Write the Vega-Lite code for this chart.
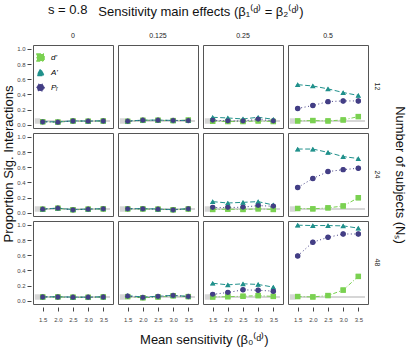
{
  "$schema": "https://vega.github.io/schema/vega-lite/v6.json",
  "title": {"text": "s = 0.8", "anchor": "start", "frame": "group", "offset": -11, "dx": 15},
  "padding": {"left": 2, "top": 4, "right": 1, "bottom": 2},
  "config": {
    "font": "Liberation Sans",
    "view": {"stroke": "#555", "strokeWidth": 1},
    "facet": {"spacing": 3},
    "concat": {"spacing": 0},
    "title": {"fontSize": 13, "fontWeight": "normal", "color": "#111"},
    "axis": {"grid": false, "labelFontSize": 6, "labelColor": "#444", "tickColor": "#444", "tickSize": 4, "domain": false, "labelOverlap": false, "title": null},
    "header": {"labelFontSize": 7, "labelColor": "#222", "titleFontSize": 13, "titleFontWeight": "normal", "titleColor": "#111"}
  },
  "vconcat": [
    {
      "title": {"text": "Mean sensitivity (β₀⁽ᵈ⁾)", "orient": "bottom", "anchor": "middle", "offset": 12},
      "hconcat": [
        {
          "title": {"text": "Proportion Sig. Interactions", "orient": "left", "anchor": "middle", "offset": 1},
          "data": {"values": [
            {"b": 0, "n": 12, "m": "d'", "x": 1.5, "v": 0.040}, {"b": 0, "n": 12, "m": "d'", "x": 2.0, "v": 0.036}, {"b": 0, "n": 12, "m": "d'", "x": 2.5, "v": 0.050}, {"b": 0, "n": 12, "m": "d'", "x": 3.0, "v": 0.047}, {"b": 0, "n": 12, "m": "d'", "x": 3.5, "v": 0.050},
            {"b": 0, "n": 12, "m": "A'", "x": 1.5, "v": 0.042}, {"b": 0, "n": 12, "m": "A'", "x": 2.0, "v": 0.038}, {"b": 0, "n": 12, "m": "A'", "x": 2.5, "v": 0.052}, {"b": 0, "n": 12, "m": "A'", "x": 3.0, "v": 0.049}, {"b": 0, "n": 12, "m": "A'", "x": 3.5, "v": 0.053},
            {"b": 0, "n": 12, "m": "Pᵣ", "x": 1.5, "v": 0.039}, {"b": 0, "n": 12, "m": "Pᵣ", "x": 2.0, "v": 0.035}, {"b": 0, "n": 12, "m": "Pᵣ", "x": 2.5, "v": 0.051}, {"b": 0, "n": 12, "m": "Pᵣ", "x": 3.0, "v": 0.048}, {"b": 0, "n": 12, "m": "Pᵣ", "x": 3.5, "v": 0.051},
            {"b": 0, "n": 24, "m": "d'", "x": 1.5, "v": 0.047}, {"b": 0, "n": 24, "m": "d'", "x": 2.0, "v": 0.060}, {"b": 0, "n": 24, "m": "d'", "x": 2.5, "v": 0.040}, {"b": 0, "n": 24, "m": "d'", "x": 3.0, "v": 0.048}, {"b": 0, "n": 24, "m": "d'", "x": 3.5, "v": 0.051},
            {"b": 0, "n": 24, "m": "A'", "x": 1.5, "v": 0.050}, {"b": 0, "n": 24, "m": "A'", "x": 2.0, "v": 0.062}, {"b": 0, "n": 24, "m": "A'", "x": 2.5, "v": 0.042}, {"b": 0, "n": 24, "m": "A'", "x": 3.0, "v": 0.050}, {"b": 0, "n": 24, "m": "A'", "x": 3.5, "v": 0.054},
            {"b": 0, "n": 24, "m": "Pᵣ", "x": 1.5, "v": 0.048}, {"b": 0, "n": 24, "m": "Pᵣ", "x": 2.0, "v": 0.061}, {"b": 0, "n": 24, "m": "Pᵣ", "x": 2.5, "v": 0.039}, {"b": 0, "n": 24, "m": "Pᵣ", "x": 3.0, "v": 0.048}, {"b": 0, "n": 24, "m": "Pᵣ", "x": 3.5, "v": 0.052},
            {"b": 0, "n": 48, "m": "d'", "x": 1.5, "v": 0.050}, {"b": 0, "n": 48, "m": "d'", "x": 2.0, "v": 0.051}, {"b": 0, "n": 48, "m": "d'", "x": 2.5, "v": 0.047}, {"b": 0, "n": 48, "m": "d'", "x": 3.0, "v": 0.046}, {"b": 0, "n": 48, "m": "d'", "x": 3.5, "v": 0.050},
            {"b": 0, "n": 48, "m": "A'", "x": 1.5, "v": 0.052}, {"b": 0, "n": 48, "m": "A'", "x": 2.0, "v": 0.053}, {"b": 0, "n": 48, "m": "A'", "x": 2.5, "v": 0.049}, {"b": 0, "n": 48, "m": "A'", "x": 3.0, "v": 0.048}, {"b": 0, "n": 48, "m": "A'", "x": 3.5, "v": 0.053},
            {"b": 0, "n": 48, "m": "Pᵣ", "x": 1.5, "v": 0.051}, {"b": 0, "n": 48, "m": "Pᵣ", "x": 2.0, "v": 0.051}, {"b": 0, "n": 48, "m": "Pᵣ", "x": 2.5, "v": 0.047}, {"b": 0, "n": 48, "m": "Pᵣ", "x": 3.0, "v": 0.047}, {"b": 0, "n": 48, "m": "Pᵣ", "x": 3.5, "v": 0.051},

            {"b": 0.125, "n": 12, "m": "d'", "x": 1.5, "v": 0.046}, {"b": 0.125, "n": 12, "m": "d'", "x": 2.0, "v": 0.059}, {"b": 0.125, "n": 12, "m": "d'", "x": 2.5, "v": 0.060}, {"b": 0.125, "n": 12, "m": "d'", "x": 3.0, "v": 0.055}, {"b": 0.125, "n": 12, "m": "d'", "x": 3.5, "v": 0.062},
            {"b": 0.125, "n": 12, "m": "A'", "x": 1.5, "v": 0.049}, {"b": 0.125, "n": 12, "m": "A'", "x": 2.0, "v": 0.062}, {"b": 0.125, "n": 12, "m": "A'", "x": 2.5, "v": 0.062}, {"b": 0.125, "n": 12, "m": "A'", "x": 3.0, "v": 0.058}, {"b": 0.125, "n": 12, "m": "A'", "x": 3.5, "v": 0.058},
            {"b": 0.125, "n": 12, "m": "Pᵣ", "x": 1.5, "v": 0.047}, {"b": 0.125, "n": 12, "m": "Pᵣ", "x": 2.0, "v": 0.060}, {"b": 0.125, "n": 12, "m": "Pᵣ", "x": 2.5, "v": 0.060}, {"b": 0.125, "n": 12, "m": "Pᵣ", "x": 3.0, "v": 0.056}, {"b": 0.125, "n": 12, "m": "Pᵣ", "x": 3.5, "v": 0.056},
            {"b": 0.125, "n": 24, "m": "d'", "x": 1.5, "v": 0.051}, {"b": 0.125, "n": 24, "m": "d'", "x": 2.0, "v": 0.051}, {"b": 0.125, "n": 24, "m": "d'", "x": 2.5, "v": 0.048}, {"b": 0.125, "n": 24, "m": "d'", "x": 3.0, "v": 0.040}, {"b": 0.125, "n": 24, "m": "d'", "x": 3.5, "v": 0.050},
            {"b": 0.125, "n": 24, "m": "A'", "x": 1.5, "v": 0.054}, {"b": 0.125, "n": 24, "m": "A'", "x": 2.0, "v": 0.055}, {"b": 0.125, "n": 24, "m": "A'", "x": 2.5, "v": 0.050}, {"b": 0.125, "n": 24, "m": "A'", "x": 3.0, "v": 0.042}, {"b": 0.125, "n": 24, "m": "A'", "x": 3.5, "v": 0.055},
            {"b": 0.125, "n": 24, "m": "Pᵣ", "x": 1.5, "v": 0.052}, {"b": 0.125, "n": 24, "m": "Pᵣ", "x": 2.0, "v": 0.052}, {"b": 0.125, "n": 24, "m": "Pᵣ", "x": 2.5, "v": 0.048}, {"b": 0.125, "n": 24, "m": "Pᵣ", "x": 3.0, "v": 0.039}, {"b": 0.125, "n": 24, "m": "Pᵣ", "x": 3.5, "v": 0.052},
            {"b": 0.125, "n": 48, "m": "d'", "x": 1.5, "v": 0.055}, {"b": 0.125, "n": 48, "m": "d'", "x": 2.0, "v": 0.040}, {"b": 0.125, "n": 48, "m": "d'", "x": 2.5, "v": 0.050}, {"b": 0.125, "n": 48, "m": "d'", "x": 3.0, "v": 0.066}, {"b": 0.125, "n": 48, "m": "d'", "x": 3.5, "v": 0.055},
            {"b": 0.125, "n": 48, "m": "A'", "x": 1.5, "v": 0.068}, {"b": 0.125, "n": 48, "m": "A'", "x": 2.0, "v": 0.050}, {"b": 0.125, "n": 48, "m": "A'", "x": 2.5, "v": 0.060}, {"b": 0.125, "n": 48, "m": "A'", "x": 3.0, "v": 0.072}, {"b": 0.125, "n": 48, "m": "A'", "x": 3.5, "v": 0.058},
            {"b": 0.125, "n": 48, "m": "Pᵣ", "x": 1.5, "v": 0.060}, {"b": 0.125, "n": 48, "m": "Pᵣ", "x": 2.0, "v": 0.043}, {"b": 0.125, "n": 48, "m": "Pᵣ", "x": 2.5, "v": 0.056}, {"b": 0.125, "n": 48, "m": "Pᵣ", "x": 3.0, "v": 0.069}, {"b": 0.125, "n": 48, "m": "Pᵣ", "x": 3.5, "v": 0.056},

            {"b": 0.25, "n": 12, "m": "d'", "x": 1.5, "v": 0.047}, {"b": 0.25, "n": 12, "m": "d'", "x": 2.0, "v": 0.043}, {"b": 0.25, "n": 12, "m": "d'", "x": 2.5, "v": 0.043}, {"b": 0.25, "n": 12, "m": "d'", "x": 3.0, "v": 0.051}, {"b": 0.25, "n": 12, "m": "d'", "x": 3.5, "v": 0.043},
            {"b": 0.25, "n": 12, "m": "A'", "x": 1.5, "v": 0.099}, {"b": 0.25, "n": 12, "m": "A'", "x": 2.0, "v": 0.090}, {"b": 0.25, "n": 12, "m": "A'", "x": 2.5, "v": 0.077}, {"b": 0.25, "n": 12, "m": "A'", "x": 3.0, "v": 0.099}, {"b": 0.25, "n": 12, "m": "A'", "x": 3.5, "v": 0.073},
            {"b": 0.25, "n": 12, "m": "Pᵣ", "x": 1.5, "v": 0.060}, {"b": 0.25, "n": 12, "m": "Pᵣ", "x": 2.0, "v": 0.051}, {"b": 0.25, "n": 12, "m": "Pᵣ", "x": 2.5, "v": 0.051}, {"b": 0.25, "n": 12, "m": "Pᵣ", "x": 3.0, "v": 0.073}, {"b": 0.25, "n": 12, "m": "Pᵣ", "x": 3.5, "v": 0.051},
            {"b": 0.25, "n": 24, "m": "d'", "x": 1.5, "v": 0.044}, {"b": 0.25, "n": 24, "m": "d'", "x": 2.0, "v": 0.048}, {"b": 0.25, "n": 24, "m": "d'", "x": 2.5, "v": 0.044}, {"b": 0.25, "n": 24, "m": "d'", "x": 3.0, "v": 0.052}, {"b": 0.25, "n": 24, "m": "d'", "x": 3.5, "v": 0.044},
            {"b": 0.25, "n": 24, "m": "A'", "x": 1.5, "v": 0.147}, {"b": 0.25, "n": 24, "m": "A'", "x": 2.0, "v": 0.129}, {"b": 0.25, "n": 24, "m": "A'", "x": 2.5, "v": 0.138}, {"b": 0.25, "n": 24, "m": "A'", "x": 3.0, "v": 0.147}, {"b": 0.25, "n": 24, "m": "A'", "x": 3.5, "v": 0.103},
            {"b": 0.25, "n": 24, "m": "Pᵣ", "x": 1.5, "v": 0.069}, {"b": 0.25, "n": 24, "m": "Pᵣ", "x": 2.0, "v": 0.069}, {"b": 0.25, "n": 24, "m": "Pᵣ", "x": 2.5, "v": 0.074}, {"b": 0.25, "n": 24, "m": "Pᵣ", "x": 3.0, "v": 0.095}, {"b": 0.25, "n": 24, "m": "Pᵣ", "x": 3.5, "v": 0.086},
            {"b": 0.25, "n": 48, "m": "d'", "x": 1.5, "v": 0.050}, {"b": 0.25, "n": 48, "m": "d'", "x": 2.0, "v": 0.054}, {"b": 0.25, "n": 48, "m": "d'", "x": 2.5, "v": 0.060}, {"b": 0.25, "n": 48, "m": "d'", "x": 3.0, "v": 0.068}, {"b": 0.25, "n": 48, "m": "d'", "x": 3.5, "v": 0.058},
            {"b": 0.25, "n": 48, "m": "A'", "x": 1.5, "v": 0.231}, {"b": 0.25, "n": 48, "m": "A'", "x": 2.0, "v": 0.210}, {"b": 0.25, "n": 48, "m": "A'", "x": 2.5, "v": 0.224}, {"b": 0.25, "n": 48, "m": "A'", "x": 3.0, "v": 0.215}, {"b": 0.25, "n": 48, "m": "A'", "x": 3.5, "v": 0.180},
            {"b": 0.25, "n": 48, "m": "Pᵣ", "x": 1.5, "v": 0.084}, {"b": 0.25, "n": 48, "m": "Pᵣ", "x": 2.0, "v": 0.110}, {"b": 0.25, "n": 48, "m": "Pᵣ", "x": 2.5, "v": 0.144}, {"b": 0.25, "n": 48, "m": "Pᵣ", "x": 3.0, "v": 0.139}, {"b": 0.25, "n": 48, "m": "Pᵣ", "x": 3.5, "v": 0.127},

            {"b": 0.5, "n": 12, "m": "d'", "x": 1.5, "v": 0.051}, {"b": 0.5, "n": 12, "m": "d'", "x": 2.0, "v": 0.056}, {"b": 0.5, "n": 12, "m": "d'", "x": 2.5, "v": 0.051}, {"b": 0.5, "n": 12, "m": "d'", "x": 3.0, "v": 0.064}, {"b": 0.5, "n": 12, "m": "d'", "x": 3.5, "v": 0.108},
            {"b": 0.5, "n": 12, "m": "A'", "x": 1.5, "v": 0.528}, {"b": 0.5, "n": 12, "m": "A'", "x": 2.0, "v": 0.511}, {"b": 0.5, "n": 12, "m": "A'", "x": 2.5, "v": 0.473}, {"b": 0.5, "n": 12, "m": "A'", "x": 3.0, "v": 0.425}, {"b": 0.5, "n": 12, "m": "A'", "x": 3.5, "v": 0.386},
            {"b": 0.5, "n": 12, "m": "Pᵣ", "x": 1.5, "v": 0.215}, {"b": 0.5, "n": 12, "m": "Pᵣ", "x": 2.0, "v": 0.254}, {"b": 0.5, "n": 12, "m": "Pᵣ", "x": 2.5, "v": 0.305}, {"b": 0.5, "n": 12, "m": "Pᵣ", "x": 3.0, "v": 0.314}, {"b": 0.5, "n": 12, "m": "Pᵣ", "x": 3.5, "v": 0.314},
            {"b": 0.5, "n": 24, "m": "d'", "x": 1.5, "v": 0.057}, {"b": 0.5, "n": 24, "m": "d'", "x": 2.0, "v": 0.052}, {"b": 0.5, "n": 24, "m": "d'", "x": 2.5, "v": 0.065}, {"b": 0.5, "n": 24, "m": "d'", "x": 3.0, "v": 0.090}, {"b": 0.5, "n": 24, "m": "d'", "x": 3.5, "v": 0.198},
            {"b": 0.5, "n": 24, "m": "A'", "x": 1.5, "v": 0.839}, {"b": 0.5, "n": 24, "m": "A'", "x": 2.0, "v": 0.839}, {"b": 0.5, "n": 24, "m": "A'", "x": 2.5, "v": 0.795}, {"b": 0.5, "n": 24, "m": "A'", "x": 3.0, "v": 0.740}, {"b": 0.5, "n": 24, "m": "A'", "x": 3.5, "v": 0.714},
            {"b": 0.5, "n": 24, "m": "Pᵣ", "x": 1.5, "v": 0.332}, {"b": 0.5, "n": 24, "m": "Pᵣ", "x": 2.0, "v": 0.452}, {"b": 0.5, "n": 24, "m": "Pᵣ", "x": 2.5, "v": 0.542}, {"b": 0.5, "n": 24, "m": "Pᵣ", "x": 3.0, "v": 0.568}, {"b": 0.5, "n": 24, "m": "Pᵣ", "x": 3.5, "v": 0.586},
            {"b": 0.5, "n": 48, "m": "d'", "x": 1.5, "v": 0.056}, {"b": 0.5, "n": 48, "m": "d'", "x": 2.0, "v": 0.051}, {"b": 0.5, "n": 48, "m": "d'", "x": 2.5, "v": 0.069}, {"b": 0.5, "n": 48, "m": "d'", "x": 3.0, "v": 0.141}, {"b": 0.5, "n": 48, "m": "d'", "x": 3.5, "v": 0.321},
            {"b": 0.5, "n": 48, "m": "A'", "x": 1.5, "v": 0.995}, {"b": 0.5, "n": 48, "m": "A'", "x": 2.0, "v": 0.990}, {"b": 0.5, "n": 48, "m": "A'", "x": 2.5, "v": 0.990}, {"b": 0.5, "n": 48, "m": "A'", "x": 3.0, "v": 0.986}, {"b": 0.5, "n": 48, "m": "A'", "x": 3.5, "v": 0.956},
            {"b": 0.5, "n": 48, "m": "Pᵣ", "x": 1.5, "v": 0.591}, {"b": 0.5, "n": 48, "m": "Pᵣ", "x": 2.0, "v": 0.771}, {"b": 0.5, "n": 48, "m": "Pᵣ", "x": 2.5, "v": 0.835}, {"b": 0.5, "n": 48, "m": "Pᵣ", "x": 3.0, "v": 0.879}, {"b": 0.5, "n": 48, "m": "Pᵣ", "x": 3.5, "v": 0.879}
          ]},
          "facet": {
            "column": {"field": "b", "type": "ordinal", "title": "Sensitivity main effects (β₁⁽ᵈ⁾ = β₂⁽ᵈ⁾)", "header": {"titlePadding": 3, "labelPadding": 5}},
            "row": {"field": "n", "type": "ordinal", "title": "Number of subjects (Nₛ)", "header": {"labelOrient": "right", "titleOrient": "right", "labelAngle": 90, "titleAngle": 90, "labelPadding": 5, "titlePadding": 2}}
          },
          "spec": {
            "width": 80,
            "height": 83,
            "encoding": {
              "x": {"field": "x", "type": "quantitative", "scale": {"domain": [1.18, 3.82], "nice": false, "zero": false}, "axis": {"values": [1.5, 2, 2.5, 3, 3.5], "format": ".1f", "offset": 2, "labelPadding": 5}},
              "y": {"field": "v", "type": "quantitative", "scale": {"domain": [-0.042, 1.05], "nice": false, "zero": false}, "axis": {"values": [0, 0.2, 0.4, 0.6, 0.8, 1], "format": ".1f", "offset": 1, "labelPadding": 2}},
              "color": {"field": "m", "type": "nominal", "scale": {"domain": ["d'", "A'", "Pᵣ"], "range": ["#7AD151", "#21918C", "#433E85"]}, "legend": {"title": null, "orient": "none", "legendX": 3, "legendY": 8, "labelFontStyle": "italic", "labelFontSize": 8, "symbolSize": 50, "rowPadding": 1, "labelOffset": 6, "symbolOpacity": 1}},
              "shape": {"field": "m", "type": "nominal", "scale": {"domain": ["d'", "A'", "Pᵣ"], "range": ["square", "triangle-up", "circle"]}, "legend": {"title": null, "orient": "none", "legendX": 3, "legendY": 8, "labelFontStyle": "italic", "labelFontSize": 8, "symbolSize": 50, "rowPadding": 1, "labelOffset": 6, "symbolOpacity": 1}}
            },
            "layer": [
              {
                "transform": [{"filter": "datum.x == 1.5 && datum.m == \"d'\""}],
                "mark": {"type": "rule", "strokeWidth": 2},
                "encoding": {
                  "x": {"datum": 1.33, "type": "quantitative"},
                  "x2": {"datum": 3.72},
                  "y": {"datum": 0.05, "type": "quantitative"},
                  "color": {"value": "#d6d6d6"}
                }
              },
              {
                "mark": {"type": "line", "strokeWidth": 1},
                "encoding": {
                  "strokeDash": {"field": "m", "type": "nominal", "scale": {"domain": ["d'", "A'", "Pᵣ"], "range": [[4, 2, 1, 2], [5, 2.5], [1, 2.5]]}, "legend": null}
                }
              },
              {
                "mark": {"type": "point", "filled": true, "opacity": 1, "size": 24}
              }
            ]
          }
        }
      ]
    }
  ]
}
